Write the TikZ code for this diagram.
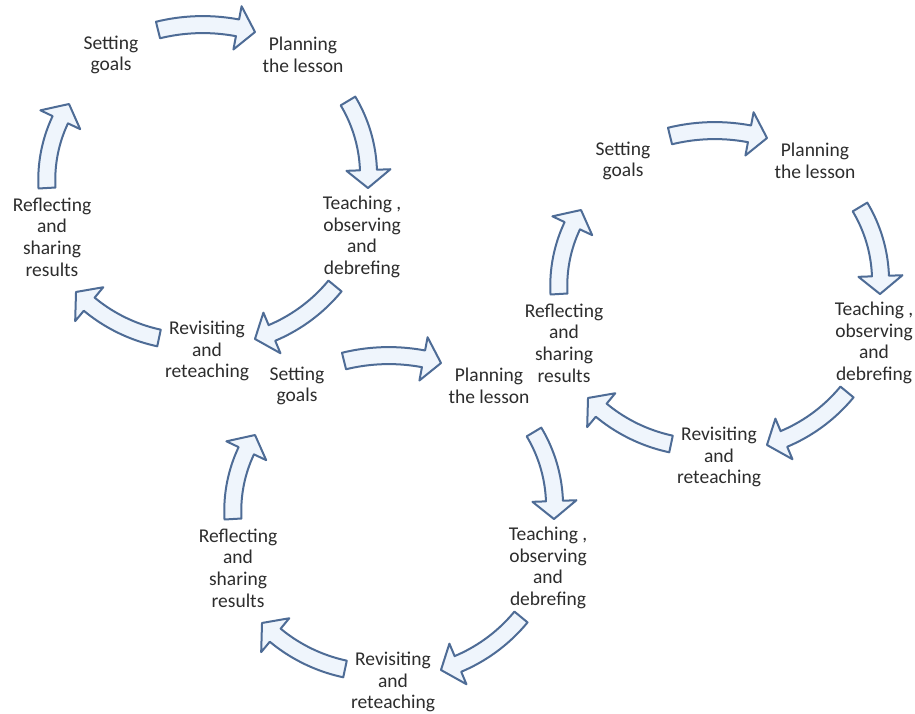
\documentclass[tikz,border=0pt]{standalone}
\usepackage{fontspec}
\setmainfont{Carlito}
\usetikzlibrary{calc}

\definecolor{arrowfill}{RGB}{239,245,252}
\definecolor{arrowline}{RGB}{78,108,150}
\definecolor{stagetext}{RGB}{45,45,45}

% shaft half-width, head half-width, head length (pt)
\newcommand\lcsw{8.5}
\newcommand\lchw{22}
\newcommand\lchl{18}

% Block arrow along a circular arc from #1 (tail centre) to #2 (tip),
% turning by #3 degrees (negative = clockwise).
\newcommand\cyclearrow[3]{%
  \path #1; \pgfgetlastxy{\caSxd}{\caSyd}%
  \path #2; \pgfgetlastxy{\caExd}{\caEyd}%
  \pgfmathsetmacro\caSx{\caSxd}\pgfmathsetmacro\caSy{\caSyd}%
  \pgfmathsetmacro\caEx{\caExd}\pgfmathsetmacro\caEy{\caEyd}%
  \pgfmathsetmacro\caDx{\caEx-\caSx}%
  \pgfmathsetmacro\caDy{\caEy-\caSy}%
  \pgfmathsetmacro\caC{10*veclen(\caDx/10,\caDy/10)}%
  \pgfmathsetmacro\caPhi{#3}%
  \pgfmathsetmacro\caK{\caC/(2*tan(\caPhi/2))}%
  \pgfmathsetmacro\caCx{(\caSx+\caEx)/2-\caK*(\caDy/\caC)}%
  \pgfmathsetmacro\caCy{(\caSy+\caEy)/2+\caK*(\caDx/\caC)}%
  \pgfmathsetmacro\caR{abs(\caC/(2*sin(\caPhi/2)))}%
  \pgfmathsetmacro\caA{atan2(\caSy-\caCy,\caSx-\caCx)}%
  \pgfmathsetmacro\caB{\caA+\caPhi}%
  \pgfmathsetmacro\caH{\caB-sign(\caPhi)*\lchl/\caR*180/pi}%
  \filldraw[blockarrow]
    plot[domain=\caA:\caH, samples=30]
      ({\caCx+(\caR+\lcsw)*cos(\x)},{\caCy+(\caR+\lcsw)*sin(\x)})
    -- ({\caCx+(\caR+\lchw)*cos(\caH)},{\caCy+(\caR+\lchw)*sin(\caH)})
    -- ({\caCx+\caR*cos(\caB)},{\caCy+\caR*sin(\caB)})
    -- ({\caCx+(\caR-\lchw)*cos(\caH)},{\caCy+(\caR-\lchw)*sin(\caH)})
    -- ({\caCx+(\caR-\lcsw)*cos(\caH)},{\caCy+(\caR-\lcsw)*sin(\caH)})
    -- plot[domain=\caH:\caA, samples=30]
      ({\caCx+(\caR-\lcsw)*cos(\x)},{\caCy+(\caR-\lcsw)*sin(\x)})
    -- cycle;
}

% One lesson-study cycle: #1 name prefix, (#2,#3) its offset
\newcommand\lessoncycle[3]{%
  \begin{scope}[shift={(#2,#3)}]
    \node[stage] (#1-set)   at (111,-55)  {Setting\\goals};
    \node[stage] (#1-plan)  at (303,-55)  {Planning\\the lesson};
    \node[stage] (#1-teach) at (362,-237) {Teaching ,\\observing\\and\\debrefing};
    \node[stage] (#1-rev)   at (207,-351) {Revisiting\\and\\reteaching};
    \node[stage] (#1-refl)  at (52,-237)  {Reflecting\\and\\sharing\\results};
  \end{scope}
  \cyclearrow{($(#1-set)+(47,25)$)}{($(#1-plan)+(-48,23)$)}{-30}
  \cyclearrow{($(#1-plan)+(45,-46)$)}{($(#1-teach)+(6,49)$)}{-36}
  \cyclearrow{($(#1-teach)+(-27,-49)$)}{($(#1-rev)+(48,12)$)}{-34}
  \cyclearrow{($(#1-rev)+(-48,13)$)}{($(#1-refl)+(24,-55)$)}{-34}
  \cyclearrow{($(#1-refl)+(-5,49)$)}{($(#1-set)+(-42,-49)$)}{-36}
}

\begin{document}
\begin{tikzpicture}[x=1pt,y=1pt,
  stage/.style={font=\fontsize{19.5pt}{21.7pt}\selectfont, align=center,
    text=stagetext, inner sep=0pt},
  blockarrow/.style={fill=arrowfill, draw=arrowline, line width=2pt,
    line join=round}]
  \fill[white] (0,0) rectangle (915,-713);
  \useasboundingbox (0,0) rectangle (915,-713);
  \lessoncycle{a}{0}{0}
  \lessoncycle{b}{512}{-106}
  \lessoncycle{c}{186}{-331}
\end{tikzpicture}
\end{document}
